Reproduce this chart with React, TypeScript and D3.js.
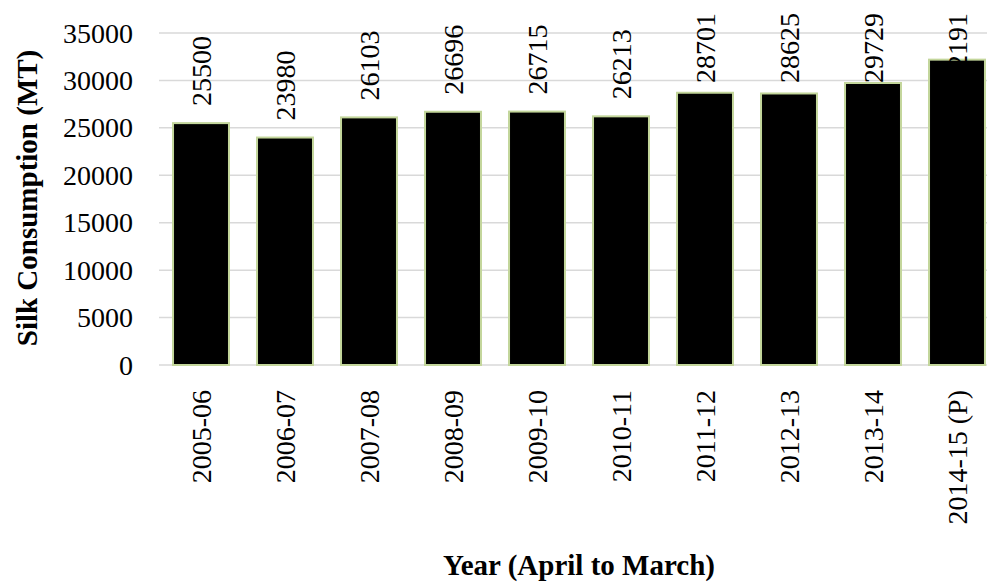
import React from "react";
import * as d3 from "d3";

const years: string[] = [
  "2005-06", "2006-07", "2007-08", "2008-09", "2009-10",
  "2010-11", "2011-12", "2012-13", "2013-14", "2014-15 (P)",
];
const consumption: number[] = [
  25500, 23980, 26103, 26696, 26715, 26213, 28701, 28625, 29729, 32191,
];
const yTicks: number[] = [0, 5000, 10000, 15000, 20000, 25000, 30000, 35000];

const W = 987;
const H = 586;
const FONT = '"Liberation Serif", "Times New Roman", "DejaVu Serif", serif';
const FS = 28;
const LABEL_TOP = 13;
const LABEL_GAP = 17;
const txtStyle = { fontFamily: FONT, fontSize: FS, fontWeight: 400 as const };
const titleStyle = { fontFamily: FONT, fontSize: 29, fontWeight: 700 as const };

export default function App() {
  const x = d3
    .scaleBand<string>()
    .domain(years)
    .range([159, 999])
    .paddingInner(0.31)
    .paddingOuter(0.155);
  const y = d3.scaleLinear().domain([0, 35000]).range([365, 33]);

  return (
    <svg
      width={W}
      height={H}
      style={{ position: "absolute", left: 0, top: 0, background: "#fff" }}
    >
      {/* gridlines */}
      {yTicks.map((t) => (
        <line
          key={t}
          x1={159}
          x2={999}
          y1={y(t)}
          y2={y(t)}
          stroke="#d9d9d9"
          strokeWidth={1.5}
        />
      ))}
      {/* y tick labels */}
      {yTicks.map((t) => (
        <text
          key={"t" + t}
          x={133}
          y={y(t)}
          dy="0.34em"
          textAnchor="end"
          style={txtStyle}
          fill="#000"
        >
          {t}
        </text>
      ))}
      {/* bars */}
      {years.map((c, i) => (
        <rect
          key={c}
          x={(x(c) as number) + 1}
          y={y(consumption[i])}
          width={x.bandwidth() - 2}
          height={y(0) - y(consumption[i])}
          fill="#000"
          stroke="#c3d69b"
          strokeWidth={2}
        />
      ))}
      {/* value labels, kept inside the top of the chart area */}
      {years.map((c, i) => {
        const v = consumption[i];
        const txt = String(v);
        const len = txt.length * 0.5 * FS;
        const start = Math.max(y(v) - LABEL_GAP, LABEL_TOP + len);
        const cx = (x(c) as number) + x.bandwidth() / 2;
        return (
          <text
            key={"v" + c}
            transform={`translate(${cx},${start}) rotate(-90)`}
            dy="0.34em"
            style={txtStyle}
            fill="#000"
          >
            {txt}
          </text>
        );
      })}
      {/* category labels */}
      {years.map((c) => {
        const cx = (x(c) as number) + x.bandwidth() / 2;
        return (
          <text
            key={"c" + c}
            transform={`translate(${cx},390) rotate(-90)`}
            dy="0.34em"
            textAnchor="end"
            style={txtStyle}
            fill="#000"
          >
            {c}
          </text>
        );
      })}
      {/* axis titles */}
      <text
        transform="translate(37,198) rotate(-90)"
        textAnchor="middle"
        style={titleStyle}
        fill="#000"
      >
        Silk Consumption (MT)
      </text>
      <text x={579} y={575} textAnchor="middle" style={titleStyle} fill="#000">
        Year (April to March)
      </text>
    </svg>
  );
}
